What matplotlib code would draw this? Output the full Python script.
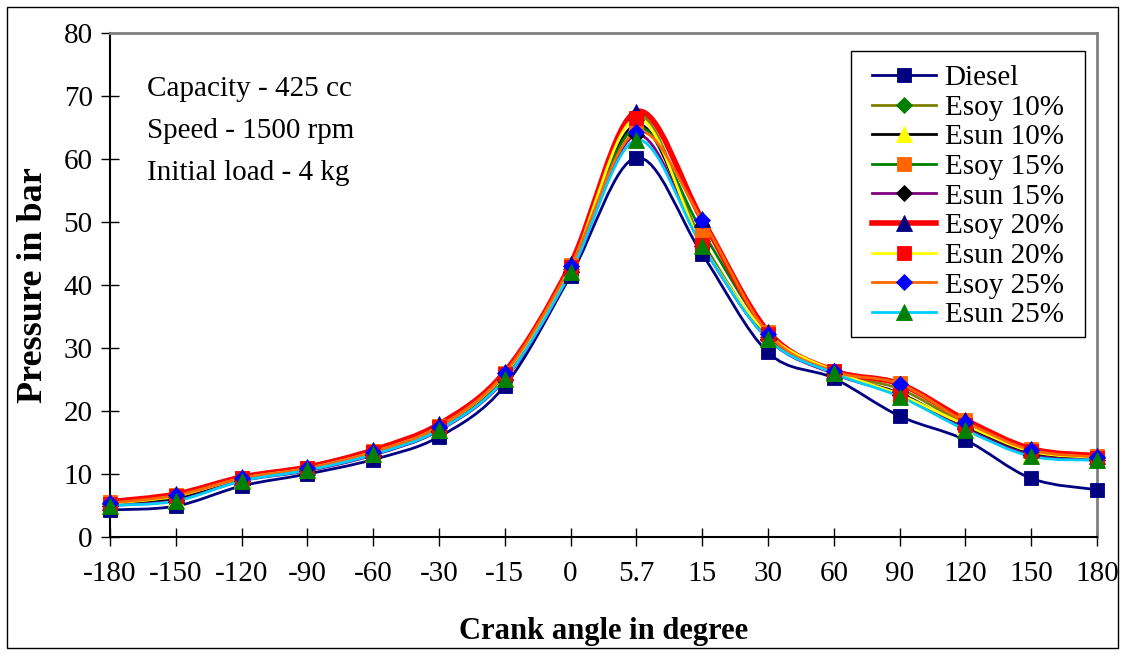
import numpy as np
import matplotlib
matplotlib.use('Agg')
import matplotlib.pyplot as plt
from matplotlib.path import Path
from matplotlib.patches import PathPatch, Rectangle
from matplotlib.lines import Line2D

# cylinder pressure (bar) against crank angle, one list per fuel blend
crank_angles = ['-180', '-150', '-120', '-90', '-60', '-30', '-15', '0',
                '5.7', '15', '30', '60', '90', '120', '150', '180']
diesel   = [4.3, 4.9, 8.1, 10.0, 12.3, 15.9, 24.0, 41.5, 60.2, 44.9, 29.3, 25.2, 19.2, 15.4, 9.3, 7.5]
esoy_10  = [5.3, 6.4, 9.2, 10.8, 13.3, 17.3, 25.6, 42.6, 67.0, 47.0, 31.8, 26.1, 23.5, 17.9, 13.5, 12.5]
esun_10  = [5.1, 6.0, 9.0, 10.6, 13.1, 17.0, 25.2, 42.2, 65.5, 46.5, 31.5, 26.0, 22.8, 17.4, 13.2, 12.3]
esoy_15  = [5.5, 6.7, 9.4, 11.0, 13.6, 17.6, 26.1, 43.1, 65.0, 48.5, 32.5, 26.4, 24.5, 18.5, 14.0, 12.9]
esun_15  = [5.0, 5.8, 8.9, 10.5, 13.0, 16.9, 25.0, 42.0, 63.8, 46.2, 31.4, 25.9, 22.5, 17.2, 13.0, 12.2]
esoy_20  = [5.6, 6.8, 9.5, 11.1, 13.8, 17.9, 26.2, 43.3, 67.5, 50.4, 32.6, 26.4, 24.3, 18.6, 14.0, 12.9]
esun_20  = [5.3, 6.5, 9.3, 10.9, 13.5, 17.5, 25.9, 42.8, 66.5, 46.4, 32.2, 26.4, 22.6, 17.8, 13.6, 12.6]
esoy_25  = [5.4, 6.6, 9.3, 10.9, 13.5, 17.5, 26.0, 43.0, 64.3, 50.3, 32.3, 26.3, 24.3, 18.3, 13.8, 12.7]
esun_25  = [5.0, 5.7, 8.9, 10.6, 13.1, 17.0, 25.1, 42.0, 63.0, 46.2, 31.4, 26.0, 22.3, 17.0, 12.8, 12.2]

# label, values, line colour, line width, marker, marker colour, marker size
series = [
    ('Diesel',   diesel,  '#000080', 2.0, 's', '#000080', 10.0),
    ('Esoy 10%', esoy_10, '#808000', 2.0, 'D', '#008000', 8.0),
    ('Esun 10%', esun_10, '#000000', 2.0, '^', '#FFFF00', 11.5),
    ('Esoy 15%', esoy_15, '#008000', 2.0, 's', '#FF6600', 10.0),
    ('Esun 15%', esun_15, '#800080', 2.0, 'D', '#000000', 8.0),
    ('Esoy 20%', esoy_20, '#FF0000', 4.0, '^', '#000080', 11.5),
    ('Esun 20%', esun_20, '#FFFF00', 2.0, 's', '#FF0000', 10.0),
    ('Esoy 25%', esoy_25, '#FF6600', 2.0, 'D', '#0000FF', 8.0),
    ('Esun 25%', esun_25, '#00CCFF', 2.0, '^', '#008000', 11.5),
]

SERIF = ['Liberation Serif', 'DejaVu Serif']

# plot area in pixels of the 1125 x 655 canvas
W, H = 1125, 655
AX_L, AX_R, AX_T, AX_B = 110, 1097, 33, 537


def px_to_axes(px, py):
    return (px - AX_L) / (AX_R - AX_L), (AX_B - py) / (AX_B - AX_T)


def smooth_path(xs, ys):
    # cubic Bezier through every point, spreadsheet-style smoothed line
    pts = np.column_stack([xs, ys]).astype(float)
    padded = np.vstack([pts[0], pts, pts[-1]])
    verts = [pts[0]]
    codes = [Path.MOVETO]
    for i in range(len(pts) - 1):
        p0, p1, p2, p3 = padded[i], padded[i + 1], padded[i + 2], padded[i + 3]
        verts += [p1 + (p2 - p0) / 6.0, p2 - (p3 - p1) / 6.0, p2]
        codes += [Path.CURVE4] * 3
    return Path(verts, codes)


fig = plt.figure(figsize=(W / 100, H / 100), dpi=100)
ax = fig.add_axes([AX_L / W, 1 - AX_B / H, (AX_R - AX_L) / W, (AX_B - AX_T) / H])

x = np.arange(len(crank_angles))
handles = []
for k, (label, vals, lc, lw, mk, mc, ms) in enumerate(series):
    ax.add_patch(PathPatch(smooth_path(x, vals), facecolor='none', edgecolor=lc,
                           lw=lw, capstyle='round', joinstyle='round', zorder=2 + k * 0.01))
    ax.plot(x, vals, linestyle='none', marker=mk, markersize=ms, markerfacecolor=mc,
            markeredgecolor=mc, markeredgewidth=0.6, zorder=3 + k * 0.01, clip_on=False)
    handles.append(Line2D([], [], color=lc, lw=lw, marker=mk, markersize=ms,
                          markerfacecolor=mc, markeredgecolor=mc, markeredgewidth=0.6))

ax.set_xlim(0, len(crank_angles) - 1)
ax.set_ylim(0, 80)
ax.set_xticks(x)
ax.set_xticklabels(crank_angles)
ax.set_yticks(np.arange(0, 81, 10))

for lab in ax.get_xticklabels() + ax.get_yticklabels():
    lab.set_family(SERIF)
    lab.set_fontsize(21)
ax.tick_params(axis='both', direction='inout', length=13, width=1.0, color='black')
ax.tick_params(axis='x', pad=11)
ax.tick_params(axis='y', pad=6)

ax.spines['left'].set_color('black')
ax.spines['bottom'].set_color('black')
ax.spines['left'].set_linewidth(1.5)
ax.spines['bottom'].set_linewidth(1.5)
ax.spines['top'].set_color('#808080')
ax.spines['right'].set_color('#808080')
ax.spines['top'].set_linewidth(2.0)
ax.spines['right'].set_linewidth(2.0)

ax.set_xlabel('Crank angle in degree', family=SERIF, fontsize=22, fontweight='bold')
ax.set_ylabel('Pressure in bar', family=SERIF, fontsize=26, fontweight='bold')
ax.xaxis.set_label_coords(0.5, -0.188)
ax.xaxis.label.set_va('center')
ax.yaxis.set_label_coords(-0.078, 0.5)
ax.yaxis.label.set_va('center')

for txt, yy in [('Capacity - 425 cc', 0.888), ('Speed - 1500 rpm', 0.805),
                ('Initial load - 4 kg', 0.723)]:
    ax.text(0.0375, yy, txt, transform=ax.transAxes, family=SERIF, fontsize=21,
            ha='left', va='center')

# legend drawn without its own frame; a wider white box sits behind it
leg = ax.legend(handles, [s[0] for s in series], loc='upper left',
                bbox_to_anchor=px_to_axes(863, 56),
                prop={'family': SERIF, 'size': 21}, frameon=False,
                borderpad=0.3, labelspacing=0.11,
                handlelength=2.2, handletextpad=0.3, borderaxespad=0.0)
leg.set_zorder(6)
bx0, by0 = px_to_axes(851, 337)
bx1, by1 = px_to_axes(1085, 51)
ax.add_patch(Rectangle((bx0, by0), bx1 - bx0, by1 - by0, transform=ax.transAxes,
                       facecolor='white', edgecolor='black', lw=1.0, zorder=5))

# thin frame round the whole chart
fig.patches.append(Rectangle((7 / W, 7 / H), 1111 / W, 641 / H,
                             transform=fig.transFigure, fill=False,
                             edgecolor='black', lw=1.0))

fig.savefig('out.png', dpi=100)
